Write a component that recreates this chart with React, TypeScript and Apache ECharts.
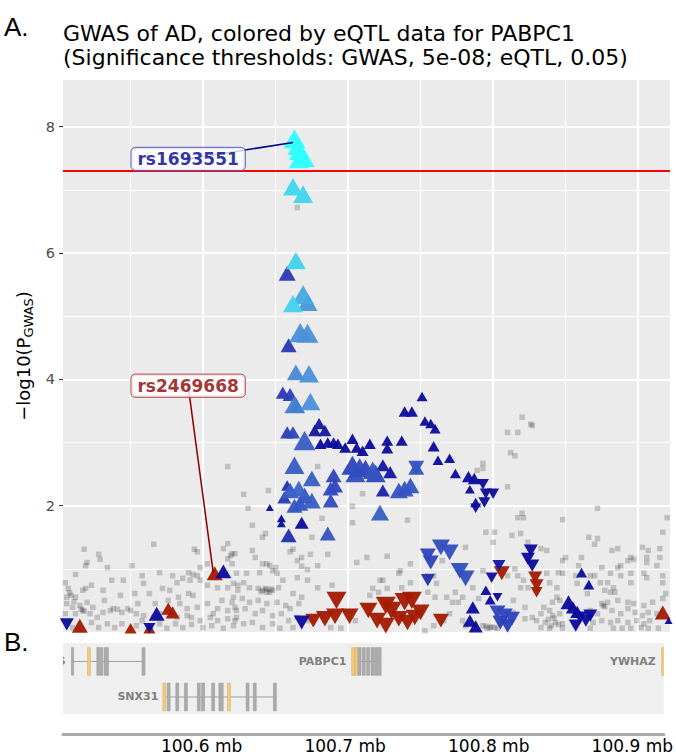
import React, { useEffect, useRef } from 'react';
import * as echarts from 'echarts';

// ---------- data ----------
// GWAS SNPs without eQTL data: [position (Mb), -log10(P_GWAS)]
const greyPoints: number[][] = [
  [100.617,2.62],[100.566,1.39],[100.518,1.31],[100.528,1.23],[100.529,1.15],[100.520,1.10],[100.519,1.05],[100.534,1.02],[100.551,1.05],[100.594,1.31],
  [100.596,1.27],[100.617,1.40],[100.614,1.32],[100.622,1.24],[100.619,1.21],[100.617,1.16],[100.620,1.08],[100.603,1.08],[100.512,0.91],[100.537,0.82],
  [100.545,0.82],[100.558,0.89],[100.559,0.77],[100.570,0.94],[100.579,0.89],[100.590,0.94],[100.593,0.91],[100.582,0.78],[100.586,0.85],[100.598,0.82],
  [100.603,0.74],[100.505,0.78],[100.507,0.69],[100.517,0.66],[100.519,0.69],[100.523,0.74],[100.531,0.66],[100.553,0.61],[100.563,0.61],[100.572,0.69],
  [100.577,0.66],[100.583,0.55],[100.590,0.61],[100.593,0.58],[100.610,0.70],[100.617,0.70],[100.621,0.77],[100.624,0.66],[100.613,0.50],[100.620,0.47],
  [100.503,0.50],[100.506,0.45],[100.510,0.39],[100.515,0.42],[100.520,0.47],[100.524,0.39],[100.532,0.50],[100.538,0.37],[100.548,0.37],[100.555,0.45],
  [100.584,0.45],[100.589,0.37],[100.596,0.39],[100.603,0.45],[100.607,0.29],[100.610,0.37],[100.617,0.34],[100.622,0.39],[100.505,0.29],[100.512,0.29],
  [100.517,0.34],[100.522,0.29],[100.527,0.23],[100.531,0.31],[100.536,0.34],[100.541,0.36],[100.544,0.31],[100.550,0.34],[100.554,0.29],[100.559,0.26],
  [100.566,0.23],[100.570,0.29],[100.582,0.23],[100.589,0.26],[100.592,0.23],[100.598,0.18],[100.605,0.23],[100.610,0.18],[100.617,0.21],[100.623,0.23],
  [100.503,0.13],[100.510,0.07],[100.523,0.15],[100.528,0.07],[100.534,0.13],[100.539,0.07],[100.544,0.13],[100.554,0.10],[100.558,0.18],[100.570,0.13],
  [100.575,0.06],[100.581,0.13],[100.586,0.07],[100.592,0.12],[100.600,0.07],[100.606,0.10],[100.614,0.06],[100.621,0.10],[100.506,0.55],[100.516,0.36],
  [100.518,0.33],[100.509,0.58],[100.512,0.55],[100.508,0.62],[100.511,0.48],[100.567,0.45],[100.576,0.50],[100.543,0.58],[100.598,1.02],[100.596,0.89],
  [100.591,0.82],
  [100.679,2.62],[100.645,2.24],[100.628,2.18],[100.631,1.96],[100.634,1.69],[100.643,1.56],[100.641,1.50],[100.703,1.99],[100.682,1.80],[100.703,1.73],
  [100.675,1.50],[100.662,1.31],[100.660,1.27],[100.674,1.23],[100.686,1.23],[100.668,1.18],[100.706,1.10],[100.713,1.18],[100.727,1.20],[100.620,1.24],
  [100.634,1.29],[100.636,1.18],[100.641,1.08],[100.646,1.05],[100.650,1.02],[100.665,1.13],[100.668,1.04],[100.672,0.99],[100.679,1.05],[100.623,0.93],
  [100.630,0.93],[100.639,0.94],[100.651,0.93],[100.655,0.82],[100.665,0.86],[100.672,0.82],[100.679,0.70],[100.689,0.74],[100.724,0.82],[100.735,0.93],
  [100.715,0.58],[100.721,0.63],[100.624,0.74],[100.628,0.78],[100.632,0.70],[100.638,0.69],[100.641,0.66],[100.643,0.69],[100.646,0.63],[100.648,0.66],
  [100.640,0.64],[100.644,0.67],[100.647,0.68],[100.644,0.63],[100.652,0.70],[100.662,0.61],[100.668,0.55],[100.621,0.55],[100.627,0.53],[100.632,0.47],
  [100.638,0.50],[100.644,0.45],[100.651,0.47],[100.657,0.42],[100.666,0.45],[100.623,0.34],[100.629,0.37],[100.636,0.29],[100.641,0.34],[100.648,0.26],
  [100.654,0.29],[100.660,0.37],[100.665,0.23],[100.622,0.18],[100.628,0.13],[100.634,0.15],[100.641,0.07],[100.648,0.13],[100.653,0.06],[100.659,0.18],
  [100.662,0.07],[100.672,0.18],[100.688,0.07],[100.695,0.06],[100.644,1.08],[100.648,0.97],[100.710,2.19],[100.722,0.82],[100.736,0.97],[100.717,0.69],
  [100.727,0.69],[100.715,0.39],[100.705,0.18],[100.665,6.72],
  [100.820,3.40],[100.826,3.29],[100.810,3.16],[100.817,3.16],[100.812,2.84],[100.815,2.79],[100.793,2.67],[100.793,2.59],[100.789,2.56],[100.810,2.30],
  [100.741,1.77],[100.817,1.81],[100.821,1.81],[100.795,1.58],[100.801,1.58],[100.800,1.42],[100.813,1.53],[100.819,1.56],[100.824,1.42],[100.781,1.34],
  [100.765,1.13],[100.743,1.08],[100.793,0.97],[100.817,0.89],[100.810,0.89],[100.755,0.89],[100.759,0.89],[100.761,0.77],[100.743,0.78],[100.737,0.70],
  [100.755,0.63],[100.760,0.55],[100.768,0.55],[100.772,0.47],[100.776,0.47],[100.779,0.55],[100.774,0.63],[100.786,0.70],[100.790,0.53],[100.814,0.50],
  [100.819,0.70],[100.824,0.70],[100.822,0.39],[100.814,0.31],[100.770,0.29],[100.766,0.18],[100.779,0.18],[100.781,0.10],[100.793,0.10],[100.798,0.07],
  [100.803,0.06],[100.796,0.06],[100.799,0.08],[100.801,0.07],[100.795,0.09],[100.822,0.21],[100.827,0.23],[100.753,0.02],[100.759,0.10],[100.815,1.00],
  [100.821,0.82],[100.820,1.88],
  [100.827,3.27],[100.872,1.96],[100.848,1.78],[100.920,1.81],[100.917,1.58],[100.866,1.50],[100.872,1.48],[100.870,1.39],[100.833,1.32],[100.837,1.29],
  [100.882,1.29],[100.886,1.32],[100.903,1.34],[100.907,1.29],[100.906,1.18],[100.915,1.32],[100.915,1.18],[100.895,1.18],[100.893,1.13],[100.897,1.15],
  [100.850,1.18],[100.848,1.13],[100.861,1.18],[100.859,1.05],[100.875,1.02],[100.886,1.02],[100.888,1.05],[100.906,1.10],[100.913,1.05],[100.845,0.94],
  [100.848,0.93],[100.857,0.89],[100.867,0.89],[100.870,0.89],[100.881,0.93],[100.888,0.89],[100.895,0.93],[100.904,0.93],[100.917,0.89],[100.837,0.93],
  [100.839,0.78],[100.844,0.70],[100.858,0.77],[100.874,0.78],[100.879,0.78],[100.883,0.70],[100.877,0.66],[100.881,0.63],[100.884,0.63],[100.895,0.78],
  [100.906,0.86],[100.917,0.78],[100.865,0.61],[100.844,0.55],[100.846,0.50],[100.841,0.47],[100.875,0.45],[100.879,0.47],[100.886,0.50],[100.893,0.47],
  [100.897,0.45],[100.904,0.42],[100.910,0.47],[100.917,0.53],[100.919,0.61],[100.835,0.39],[100.839,0.34],[100.833,0.29],[100.841,0.26],[100.846,0.29],
  [100.867,0.34],[100.872,0.29],[100.876,0.42],[100.877,0.40],[100.882,0.34],[100.888,0.29],[100.893,0.37],[100.898,0.31],[100.903,0.26],[100.907,0.31],
  [100.913,0.29],[100.830,0.18],[100.836,0.15],[100.843,0.15],[100.848,0.13],[100.869,0.15],[100.875,0.18],[100.881,0.15],[100.886,0.18],[100.893,0.15],
  [100.899,0.18],[100.904,0.13],[100.908,0.18],[100.833,0.07],[100.839,0.06],[100.848,0.06],[100.867,0.06],[100.883,0.06],[100.889,0.06],[100.895,0.06],
  [100.902,0.07],[100.907,0.06],[100.914,0.06],[100.838,0.20],[100.842,0.22],[100.845,0.12],[100.840,0.10],
];

// eQTL SNPs, positive effect (up triangles): [position, -log10(P_GWAS), eQTL significance level 0..1, point size]
const eqtlUp: number[][] = [
  [100.663,7.81,1,22],[100.665,7.69,1,20],[100.666,7.61,1,20],[100.668,7.53,1,20],[100.670,7.50,1,20],[100.666,7.48,1,20],
  [100.662,7.05,0.78,20],[100.669,6.93,0.78,20],
  [100.664,5.88,0.76,20],[100.658,5.68,0.2,17],
  [100.669,5.34,0.6,22],[100.662,5.20,0.76,20],[100.672,5.22,0.52,20],
  [100.667,4.74,0.5,22],[100.672,4.73,0.5,22],[100.659,4.54,0.2,16],
  [100.664,4.11,0.48,18],[100.673,4.09,0.5,20],
  [100.655,3.79,0.2,14],[100.660,3.76,0.22,15],[100.663,3.60,0.45,20],[100.674,3.65,0.5,20],[100.664,3.59,0.33,18],
  [100.751,3.73,0,11],[100.739,3.49,0,12],[100.744,3.49,0,12],[100.753,3.34,0,11],[100.757,3.30,0,11],[100.760,3.22,0,11],
  [100.680,3.30,0.05,13],[100.677,3.19,0.05,13],[100.684,3.19,0.05,13],
  [100.658,3.16,0.22,14],[100.662,3.16,0.25,14],[100.670,3.03,0.33,22],
  [100.681,2.98,0,12],[100.686,3.00,0,12],[100.690,3.00,0,12],[100.693,2.98,0,12],[100.698,2.92,0,12],[100.703,3.06,0,12],
  [100.706,2.92,0,12],[100.710,2.87,0,12],[100.715,2.98,0,12],[100.727,3.03,0,12],[100.727,2.91,0,12],[100.737,3.03,0,12],
  [100.759,2.94,0,12],[100.762,2.72,0,11],[100.770,2.75,0,11],[100.774,2.51,0,11],[100.783,2.46,0,13],[100.787,2.43,0,13],
  [100.784,2.26,0,10],[100.788,2.05,0,11],
  [100.663,2.64,0.33,20],[100.703,2.64,0.25,22],[100.708,2.60,0.27,22],[100.712,2.59,0.25,20],[100.717,2.56,0.3,20],
  [100.705,2.51,0.28,20],[100.719,2.51,0.25,20],[100.724,2.64,0.05,14],[100.729,2.53,0.05,14],[100.724,2.24,0.1,14],
  [100.735,2.24,0.3,18],[100.739,2.27,0.3,18],[100.743,2.32,0.3,18],[100.747,2.60,0.3,16],[100.722,1.89,0.33,18],
  [100.690,2.48,0.25,16],[100.691,2.32,0.25,16],[100.688,2.27,0.27,16],[100.688,2.08,0.27,16],[100.675,2.43,0.33,18],
  [100.660,2.24,0.33,18],[100.666,2.27,0.35,18],[100.670,2.16,0.3,18],[100.667,2.03,0.3,16],[100.675,2.08,0.33,18],
  [100.663,2.00,0.3,16],[100.656,2.13,0.2,14],[100.658,2.32,0.15,12],
  [100.646,1.97,0,8],[100.654,1.80,0,9],[100.654,1.72,0,9],[100.668,1.73,0,14],[100.659,1.53,0.15,16],[100.686,1.56,0.3,16],
  [100.614,0.96,0,16],[100.568,0.29,0,16],[100.795,0.66,0,11],[100.798,0.51,0,11],[100.786,0.39,0,14],[100.784,0.18,0,14],
  [100.788,0.09,0,14],[100.861,0.94,0,11],[100.866,0.75,0,11],[100.852,0.47,0,16],[100.855,0.39,0,14],[100.858,0.32,0,14],
  [100.921,0.18,0,8],
];

// eQTL SNPs, negative effect (down triangles)
const eqtlDown: number[][] = [
  [100.506,0.12,0,14],[100.563,0.06,0,12],[100.668,0.15,0,16],[100.747,2.60,0.3,16],[100.793,2.34,0,12],[100.795,2.19,0,12],
  [100.800,2.19,0,12],[100.794,2.05,0,12],[100.788,1.96,0,11],
  [100.764,1.34,0.28,18],[100.770,1.26,0.28,18],[100.757,1.10,0.25,16],[100.755,1.21,0.25,16],[100.755,0.82,0.15,14],
  [100.777,0.97,0.28,18],[100.781,0.85,0.28,18],[100.804,1.05,0.05,13],[100.799,0.86,0,12],
  [100.803,0.31,0.25,16],[100.808,0.26,0.25,16],[100.813,0.21,0.25,16],[100.805,0.15,0.22,16],[100.810,0.10,0.22,16],[100.803,0.55,0,10],
  [100.826,1.29,0,14],[100.824,1.16,0,14],[100.827,1.05,0,14],
  [100.860,0.23,0,14],[100.864,0.18,0,14],[100.857,0.10,0,14],[100.867,0.26,0,14],
];

// non-significant eQTL SNPs: [position, -log10(P_GWAS), point size]
const nsUp: number[][] = [
  [100.608,0.93,16],[100.576,0.37,14],[100.579,0.31,14],[100.550,0.06,12],[100.563,0.06,12],[100.515,0.10,16],[100.917,0.31,16],
];
const nsDown: number[][] = [
  [100.692,0.50,20],[100.691,0.25,18],[100.701,0.25,18],[100.684,0.21,18],[100.676,0.18,16],[100.714,0.34,18],[100.726,0.42,20],
  [100.730,0.34,20],[100.739,0.48,20],[100.744,0.50,20],[100.720,0.18,18],[100.726,0.10,18],[100.735,0.21,18],[100.746,0.23,18],
  [100.750,0.31,18],[100.741,0.15,18],[100.764,0.18,16],[100.806,0.93,16],[100.829,0.86,14],[100.830,0.74,14],[100.830,0.63,12],
];

// labelled SNPs: name, label anchor [pos, y], SNP [pos, y]
const snpLabels = [
  { name: 'rs1693551', box: [100.5897, 7.49], snp: [100.662, 7.75], color: '#00008B', border: '#5A5AB8' },
  { name: 'rs2469668', box: [100.5897, 3.90], snp: [100.607, 0.94], color: '#8B0000', border: '#B04848' },
];

// gene track
const geneNames = ['ANKRD46', 'SNX31', 'PABPC1', 'YWHAZ'];
const geneStart = [100.5093, 100.574, 100.705, 100.9205];
const geneEnd = [100.560, 100.651, 100.725, 100.953];
const geneRow = [0, 1, 0, 0];
// exons: [gene index, start, end, kind (0 coding, 1 UTR)]
const exons: number[][] = [
  [0,100.5093,100.5108,0],[0,100.5205,100.5225,1],[0,100.527,100.531,0],[0,100.532,100.535,0],[0,100.5585,100.5605,0],
  [1,100.573,100.575,1],[1,100.576,100.578,0],[1,100.582,100.584,0],[1,100.588,100.590,0],[1,100.597,100.599,0],
  [1,100.600,100.602,0],[1,100.607,100.609,0],[1,100.612,100.615,0],[1,100.618,100.620,1],[1,100.631,100.633,0],
  [1,100.636,100.638,0],[1,100.650,100.652,0],
  [2,100.7045,100.7065,1],[2,100.7068,100.7088,1],[2,100.709,100.711,0],[2,100.712,100.714,0],[2,100.715,100.717,0],
  [2,100.718,100.720,0],[2,100.7205,100.7225,0],[2,100.723,100.725,0],
  [3,100.9205,100.925,1],
];

const xTicks = [100.6, 100.7, 100.8, 100.9];
const xMinorBreaks = [100.55, 100.65, 100.75, 100.85];
const yTicks = [2, 4, 6, 8];
const yMinorBreaks = [1, 3, 5, 7];
const gwasThreshold = -Math.log10(5e-8);

const X_MIN = 100.5034;
const X_MAX = 100.922;
const Y_MAX = 8.74;
const FONT = '"DejaVu Sans", sans-serif';
const ROW_Y = [0.74, 0.24];

function buildOption(): any {
  const byLevel = (a: number[], b: number[]) => a[2] - b[2];
  const upSorted = [...eqtlUp].sort(byLevel);
  const downSorted = [...eqtlDown].sort(byLevel);
  const triSize = (i: number) => (v: number[]) => [v[i], v[i] * 0.87];

  const gridLines = [
    ...yTicks.map((v) => ({ yAxis: v, lineStyle: { width: 2 } })),
    ...yMinorBreaks.map((v) => ({ yAxis: v, lineStyle: { width: 1.1 } })),
    ...xTicks.map((v) => ({ xAxis: v, lineStyle: { width: 2 } })),
    ...xMinorBreaks.map((v) => ({ xAxis: v, lineStyle: { width: 1.1 } })),
  ];

  return {
    animation: false,
    backgroundColor: '#ffffff',
    title: {
      text: 'GWAS of AD, colored by eQTL data for PABPC1\n(Significance thresholds: GWAS, 5e-08; eQTL, 0.05)',
      left: 63,
      top: 21,
      padding: 0,
      textStyle: { fontSize: 22, lineHeight: 24, fontWeight: 'normal', fontFamily: FONT, color: '#000' },
    },
    graphic: [
      { type: 'text', left: 4, top: 14, style: { text: 'A.', font: '26px "Liberation Sans"', fill: '#000' } },
      { type: 'text', left: 4, top: 629, style: { text: 'B.', font: '26px "Liberation Sans"', fill: '#000' } },
    ],
    grid: [
      { left: 63, right: 6, top: 80, bottom: 122, show: true, backgroundColor: '#EBEBEB', borderWidth: 0 },
      { left: 63, right: 6, top: 643, bottom: 37, show: true, backgroundColor: '#EFEFEF', borderWidth: 0 },
    ],
    xAxis: [
      {
        gridIndex: 0, type: 'value', min: X_MIN, max: X_MAX,
        axisLine: { show: false }, axisTick: { show: false }, axisLabel: { show: false }, splitLine: { show: false },
      },
      {
        gridIndex: 1, type: 'value', min: X_MIN, max: X_MAX, position: 'bottom', offset: 20,
        axisLine: { show: true, onZero: false, lineStyle: { color: '#ABABAB', width: 3 } },
        axisTick: { show: false },
        splitLine: { show: false },
        axisLabel: {
          show: true, customValues: xTicks, margin: 3, fontSize: 17, color: '#000', fontFamily: FONT,
          formatter: (v: number) => v.toFixed(1) + ' mb',
        },
      },
    ],
    yAxis: [
      {
        gridIndex: 0, type: 'value', min: 0, max: Y_MAX, interval: 2,
        axisLine: { show: false },
        axisTick: { show: true, length: 4, customValues: yTicks, lineStyle: { color: '#333', width: 1 } },
        axisLabel: { customValues: yTicks, margin: 8, fontSize: 14.5, color: '#4D4D4D', fontFamily: FONT },
        splitLine: { show: false },
        name: '{a|−log10(P}{b|GWAS}{a|)}',
        nameLocation: 'middle',
        nameGap: 21,
        nameRotate: 90,
        nameTextStyle: {
          rich: {
            a: { fontSize: 18, fontFamily: FONT, color: '#000', lineHeight: 22 },
            b: { fontSize: 13, fontFamily: FONT, color: '#000', lineHeight: 15, verticalAlign: 'bottom' },
          },
        },
      },
      { gridIndex: 1, type: 'value', min: 0, max: 1, show: false },
    ],
    visualMap: [
      {
        type: 'continuous', show: false, min: 0, max: 1, dimension: 2, seriesIndex: [4, 5],
        inRange: { color: ['#0B0B9C', '#2F45BC', '#4A90D9', '#42D0EA', '#30FFFF'] },
      },
    ],
    series: [
      {
        type: 'line', xAxisIndex: 0, yAxisIndex: 0, data: [], silent: true, z: 1,
        markLine: {
          silent: true, z: 1, symbol: ['none', 'none'], label: { show: false }, animation: false,
          lineStyle: { color: '#FFFFFF', type: 'solid' }, data: gridLines,
        },
      },
      {
        type: 'scatter', xAxisIndex: 0, yAxisIndex: 0, data: greyPoints, symbol: 'rect', symbolSize: 5.5,
        itemStyle: { color: 'rgba(0,0,0,0.24)' }, silent: true, z: 2,
      },
      {
        type: 'scatter', xAxisIndex: 0, yAxisIndex: 0, data: nsUp, symbol: 'triangle', symbolSize: triSize(2),
        itemStyle: { color: '#A21A00', opacity: 0.95 }, silent: true, z: 3,
      },
      {
        type: 'scatter', xAxisIndex: 0, yAxisIndex: 0, data: nsDown, symbol: 'triangle', symbolRotate: 180,
        symbolSize: triSize(2), itemStyle: { color: '#A21A00', opacity: 0.95 }, silent: true, z: 3,
      },
      {
        type: 'scatter', xAxisIndex: 0, yAxisIndex: 0, data: downSorted, symbol: 'triangle', symbolRotate: 180,
        symbolSize: triSize(3), itemStyle: { opacity: 0.95 }, silent: true, z: 4,
      },
      {
        type: 'scatter', xAxisIndex: 0, yAxisIndex: 0, data: upSorted, symbol: 'triangle',
        symbolSize: triSize(3), itemStyle: { opacity: 0.95 }, silent: true, z: 4,
      },
      {
        type: 'line', xAxisIndex: 0, yAxisIndex: 0, data: [], silent: true, z: 5,
        markLine: {
          silent: true, z: 5, symbol: ['none', 'none'], label: { show: false }, animation: false,
          lineStyle: { color: '#FF0000', type: 'solid', width: 1.8 }, data: [{ yAxis: gwasThreshold }],
        },
      },
      ...snpLabels.map((l) => ({
        type: 'line', xAxisIndex: 0, yAxisIndex: 0, data: [l.box, l.snp], showSymbol: false, symbol: 'none',
        lineStyle: { color: l.color, width: 1.5 }, silent: true, z: 8,
      })),
      {
        type: 'scatter', xAxisIndex: 0, yAxisIndex: 0, symbolSize: 0, silent: true, z: 10,
        itemStyle: { color: 'transparent' },
        data: snpLabels.map((l) => ({
          name: l.name, value: l.box,
          label: {
            show: true, position: 'inside', formatter: '{b}', fontSize: 17, fontWeight: 'bold', fontFamily: FONT,
            color: l.color, textBorderWidth: 0, textBorderColor: 'transparent', textShadowBlur: 0,
            backgroundColor: '#FFFFFF', borderColor: l.border, borderWidth: 1.2, borderRadius: 4,
            padding: [3, 6, 2, 6],
          },
        })),
      },
      {
        type: 'custom', coordinateSystem: 'cartesian2d', xAxisIndex: 1, yAxisIndex: 1, clip: true, silent: true, z: 2,
        data: geneNames.map((_, i) => [geneStart[i], geneEnd[i], i]),
        renderItem: (params: any, api: any) => {
          const i = api.value(2);
          const yv = ROW_Y[geneRow[i]];
          const p1 = api.coord([api.value(0), yv]);
          const p2 = api.coord([api.value(1), yv]);
          return {
            type: 'group',
            children: [
              { type: 'line', shape: { x1: p1[0], y1: p1[1], x2: p2[0], y2: p2[1] }, style: { stroke: '#A0A0A0', lineWidth: 1 } },
              {
                type: 'text', x: p1[0] - 6, y: p1[1],
                style: { text: geneNames[i], align: 'right', verticalAlign: 'middle', fill: '#7F7F7F', font: 'bold 11px "DejaVu Sans"' },
              },
            ],
          };
        },
      },
      {
        type: 'custom', coordinateSystem: 'cartesian2d', xAxisIndex: 1, yAxisIndex: 1, clip: true, silent: true, z: 3,
        data: exons,
        renderItem: (params: any, api: any) => {
          const g = api.value(0);
          const yv = ROW_Y[geneRow[g]];
          const p1 = api.coord([api.value(1), yv]);
          const p2 = api.coord([api.value(2), yv]);
          const h = api.size([0, 0.39])[1];
          const utr = api.value(3) === 1;
          return {
            type: 'rect',
            shape: { x: p1[0], y: p1[1] - h / 2, width: Math.max(2, p2[0] - p1[0]), height: h },
            style: { fill: utr ? '#F6C97F' : '#ABABAB', stroke: utr ? '#D6AE66' : '#9A9A9A', lineWidth: 0.6 },
          };
        },
      },
    ],
  };
}

export default function App() {
  const ref = useRef<HTMLDivElement>(null);
  useEffect(() => {
    const chart = echarts.init(ref.current as HTMLDivElement, null, { renderer: 'svg' });
    chart.setOption(buildOption());
    return () => chart.dispose();
  }, []);
  return (
    <div
      ref={ref}
      style={{ position: 'fixed', left: 0, top: 0, width: 676, height: 754, background: '#fff' }}
    />
  );
}
